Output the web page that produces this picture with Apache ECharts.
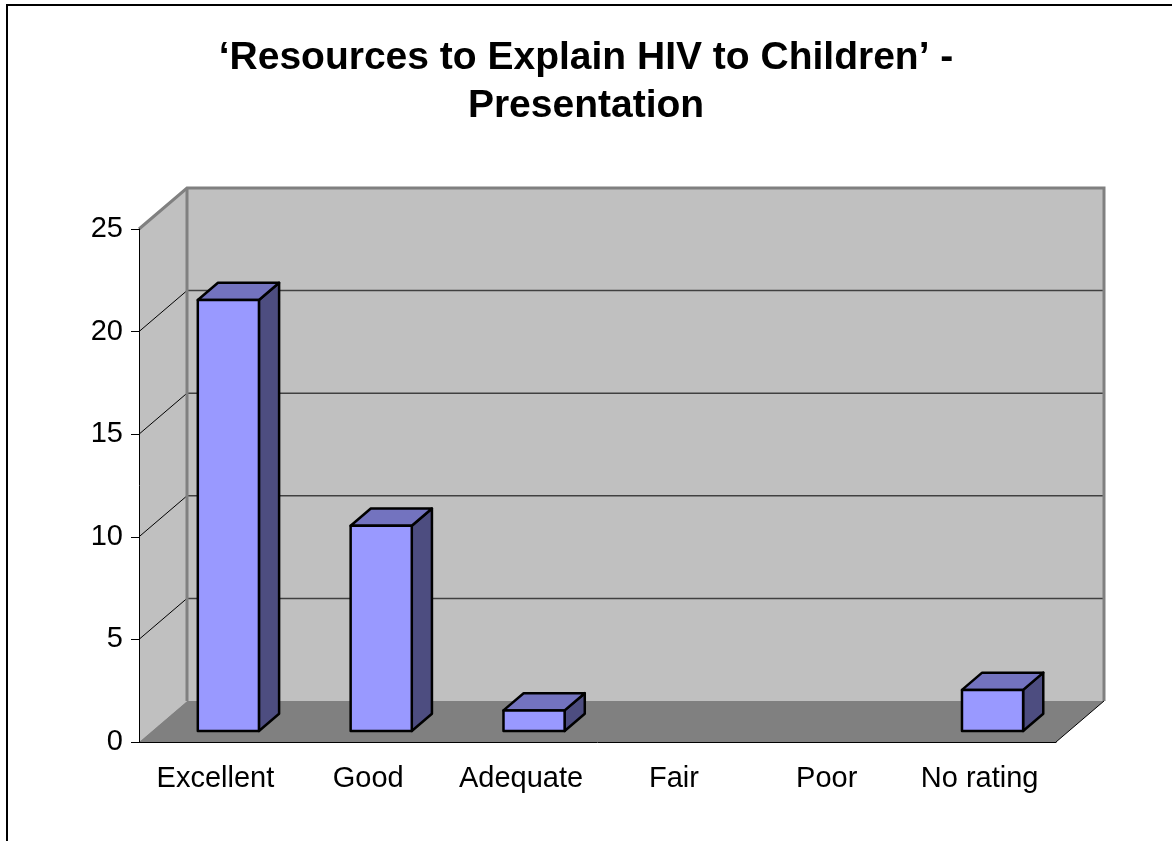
<!DOCTYPE html>
<html>
<head>
<meta charset="utf-8">
<title>Resources to Explain HIV to Children - Presentation</title>
<script src="https://cdn.jsdelivr.net/npm/echarts@6/dist/echarts.min.js"></script>
<style>
  html, body { margin: 0; padding: 0; background: #fff; }
  #chart { width: 1172px; height: 841px; }
</style>
</head>
<body>
<div id="chart"></div>
<script>
// categories and counts
var categories = ['Excellent', 'Good', 'Adequate', 'Fair', 'Poor', 'No rating'];
var counts = [21, 10, 1, 0, 0, 2];
var gridValues = [5, 10, 15, 20];

// oblique 3d look, in pixels
var DEPTH = [48, -41];      // front of floor -> back wall
var BAR_FRONT = 0.27;       // bar front face sits this far into the depth
var BAR_DEPTH = 0.42;       // bar thickness as part of the depth
var FONT = 'Arial, "Liberation Sans", sans-serif';

var chart = echarts.init(document.getElementById('chart'));

function renderWalls(params, api) {
  var cs = params.coordSys;
  var x0 = cs.x, x1 = cs.x + cs.width;
  var yBot = api.coord([0, 0])[1];
  var yTop = api.coord([0, 25])[1];
  var dx = DEPTH[0], dy = DEPTH[1];
  var kids = [];
  // back wall
  kids.push({ type: 'polygon', shape: { points: [[x0 + dx, yTop + dy], [x1 + dx, yTop + dy], [x1 + dx, yBot + dy], [x0 + dx, yBot + dy]] },
    style: { fill: '#c0c0c0' } });
  // side wall
  kids.push({ type: 'polygon', shape: { points: [[x0, yTop], [x0 + dx, yTop + dy], [x0 + dx, yBot + dy], [x0, yBot]] },
    style: { fill: '#c0c0c0' } });
  // floor
  kids.push({ type: 'polygon', shape: { points: [[x0, yBot], [x0 + dx, yBot + dy], [x1 + dx, yBot + dy], [x1, yBot]] },
    style: { fill: '#808080' } });
  gridValues.forEach(function (v) {
    var y = api.coord([0, v])[1];
    kids.push({ type: 'line', shape: { x1: x0, y1: y, x2: x0 + dx, y2: y + dy }, style: { stroke: '#000', lineWidth: 1 } });
    kids.push({ type: 'line', shape: { x1: x0 + dx, y1: y + dy, x2: x1 + dx, y2: y + dy }, style: { stroke: '#404040', lineWidth: 1.5 } });
  });
  // wall borders
  kids.push({ type: 'polyline', shape: { points: [[x0, yTop], [x0 + dx, yTop + dy], [x1 + dx, yTop + dy], [x1 + dx, yBot + dy]] },
    style: { stroke: '#808080', lineWidth: 3, fill: null } });
  kids.push({ type: 'line', shape: { x1: x0 + dx, y1: yTop + dy, x2: x0 + dx, y2: yBot + dy }, style: { stroke: '#808080', lineWidth: 3 } });
  kids.push({ type: 'line', shape: { x1: x1, y1: yBot, x2: x1 + dx, y2: yBot + dy }, style: { stroke: '#000', lineWidth: 1 } });
  return { type: 'group', children: kids };
}

function renderBar(params, api) {
  var v = api.value(1);
  if (!v) return null;
  var c = api.value(0);
  var band = api.size([1, 0])[0];
  var w = band * 0.4;
  var base = api.coord([c, 0]);
  var top = api.coord([c, v]);
  var fx = DEPTH[0] * BAR_FRONT, fy = DEPTH[1] * BAR_FRONT;
  var bx = DEPTH[0] * BAR_DEPTH, by = DEPTH[1] * BAR_DEPTH;
  var xl = base[0] - w / 2 + fx, xr = base[0] + w / 2 + fx;
  var yb = base[1] + fy, yt = top[1] + fy;
  var st = { stroke: '#000', lineWidth: 2.5, lineJoin: 'round' };
  return {
    type: 'group',
    children: [
      { type: 'polygon', shape: { points: [[xr, yt], [xr + bx, yt + by], [xr + bx, yb + by], [xr, yb]] },
        style: Object.assign({ fill: '#4d4d80' }, st) },
      { type: 'polygon', shape: { points: [[xl, yt], [xl + bx, yt + by], [xr + bx, yt + by], [xr, yt]] },
        style: Object.assign({ fill: '#7373bf' }, st) },
      { type: 'rect', shape: { x: xl, y: yt, width: w, height: yb - yt },
        style: Object.assign({ fill: '#9999ff' }, st) }
    ]
  };
}

var option = {
  animation: false,
  textStyle: { fontFamily: FONT },
  title: {
    text: '\u2018Resources to Explain HIV to Children\u2019 -\nPresentation',
    left: 'center',
    top: 29,
    textStyle: { fontSize: 39, fontWeight: 'bold', color: '#000', fontFamily: FONT, lineHeight: 48 }
  },
  graphic: [{
    type: 'rect', z: 100, silent: true,
    shape: { x: 7, y: 5, width: 1300, height: 1000 },
    style: { fill: null, stroke: '#000', lineWidth: 2 }
  }],
  grid: { left: 139, right: 116, top: 229, bottom: 99 },
  xAxis: {
    type: 'category',
    data: categories,
    axisLine: { lineStyle: { color: '#000', width: 1 } },
    axisTick: { length: 9, lineStyle: { color: '#000' } },
    axisLabel: { fontSize: 29, color: '#000', margin: 22, fontFamily: FONT, interval: 0 }
  },
  yAxis: {
    type: 'value',
    min: 0, max: 25, interval: 5,
    axisLine: { show: true, lineStyle: { color: '#000', width: 1 } },
    axisTick: { show: true, length: 8, lineStyle: { color: '#000' } },
    axisLabel: { fontSize: 29, color: '#000', margin: 16, fontFamily: FONT },
    splitLine: { show: false }
  },
  series: [
    { type: 'custom', z: -1, silent: true, clip: false, renderItem: renderWalls, data: [[0, 0]] },
    { type: 'custom', z: 5, clip: false, renderItem: renderBar,
      data: counts.map(function (v, i) { return [i, v]; }) }
  ]
};

chart.setOption(option);
</script>
</body>
</html>
